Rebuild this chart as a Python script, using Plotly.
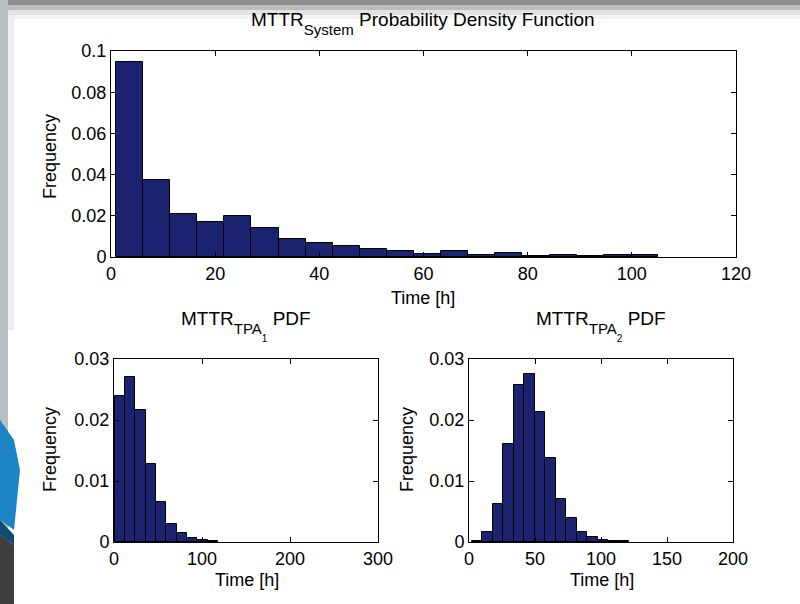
import numpy as np
import plotly.graph_objects as go

# ---------------- data ----------------
# MTTR_System histogram: 20 bins spanning ~0.96 h .. ~105 h
system_range = [0.96, 105.0]
system_freq = [0.0945, 0.0374, 0.0207, 0.0171, 0.0201, 0.0139, 0.0087, 0.0066,
               0.0053, 0.0040, 0.0031, 0.0015, 0.0029, 0.0010, 0.0020, 0.0007,
               0.0012, 0.0003, 0.0008, 0.0008]

# MTTR_TPA1 histogram: 10 bins spanning ~1 h .. ~118 h
tpa1_range = [1.0, 118.0]
tpa1_freq = [0.0239, 0.0270, 0.0216, 0.0128, 0.0065, 0.0030, 0.0014, 0.00066,
             0.00026, 0.00014]

# MTTR_TPA2 histogram: 15 bins spanning ~2.1 h .. ~121 h
tpa2_range = [2.1, 121.4]
tpa2_freq = [0.0002, 0.0016, 0.0063, 0.0160, 0.0257, 0.0276, 0.0213, 0.0137,
             0.0070, 0.0039, 0.0016, 0.00087, 0.0004, 0.0002, 0.0002]

system_xticks = [0, 20, 40, 60, 80, 100, 120]
system_yticks = [0, 0.02, 0.04, 0.06, 0.08, 0.1]
tpa1_xticks = [0, 100, 200, 300]
tpa2_xticks = [0, 50, 100, 150, 200]
tpa_yticks = [0, 0.01, 0.02, 0.03]

# ---------------- helpers ----------------
BAR_COLOR = "rgb(27,35,112)"
FONT = "Liberation Sans, Arial, Helvetica, sans-serif"
FS = 18
TFS = 19
W, H = 800, 604


def bins(rng, values):
    n = len(values)
    edges = np.linspace(rng[0], rng[1], n + 1)
    centers = (edges[:-1] + edges[1:]) / 2
    width = edges[1] - edges[0]
    return centers, width


def px_x(p):
    return p / W


def px_y(p):
    return 1 - p / H


fig = go.Figure()
for rng, vals, xa, ya in [
    (system_range, system_freq, "x", "y"),
    (tpa1_range, tpa1_freq, "x2", "y2"),
    (tpa2_range, tpa2_freq, "x3", "y3"),
]:
    c, w = bins(rng, vals)
    fig.add_trace(go.Bar(
        x=c, y=vals, width=w, xaxis=xa, yaxis=ya,
        marker=dict(color=BAR_COLOR, line=dict(color="black", width=1)),
        showlegend=False, hoverinfo="x+y",
    ))

axis_common = dict(
    showline=True, linecolor="black", linewidth=1, mirror="ticks",
    ticks="inside", ticklen=5, tickcolor="black", showgrid=False,
    zeroline=False, tickfont=dict(family=FONT, size=FS, color="black"),
    fixedrange=True, automargin=False,
)

fig.update_layout(
    width=W, height=H,
    margin=dict(l=0, r=0, t=0, b=0, pad=0, autoexpand=False),
    paper_bgcolor="white", plot_bgcolor="white",
    bargap=0,
    font=dict(family=FONT, size=FS, color="black"),
    xaxis=dict(domain=[px_x(111), px_x(736)], range=[0, 120],
               tickvals=system_xticks, anchor="y", **axis_common),
    yaxis=dict(domain=[px_y(257), px_y(51)], range=[0, 0.1],
               tickvals=system_yticks, ticktext=[f"{v:g}" for v in system_yticks],
               anchor="x", **axis_common),
    xaxis2=dict(domain=[px_x(114), px_x(378)], range=[0, 300],
                tickvals=tpa1_xticks, anchor="y2", **axis_common),
    yaxis2=dict(domain=[px_y(542), px_y(359)], range=[0, 0.03],
                tickvals=tpa_yticks, ticktext=[f"{v:g}" for v in tpa_yticks],
                anchor="x2", **axis_common),
    xaxis3=dict(domain=[px_x(469), px_x(733)], range=[0, 200],
                tickvals=tpa2_xticks, anchor="y3", **axis_common),
    yaxis3=dict(domain=[px_y(542), px_y(359)], range=[0, 0.03],
                tickvals=tpa_yticks, ticktext=[f"{v:g}" for v in tpa_yticks],
                anchor="x3", **axis_common),
)

# ---------------- text ----------------
def ann(text, x, y, angle=0, size=FS, xanchor="center", yanchor="middle"):
    fig.add_annotation(text=text, x=px_x(x), y=px_y(y), xref="paper", yref="paper",
                       showarrow=False, textangle=angle, xanchor=xanchor,
                       yanchor=yanchor, font=dict(family=FONT, size=size, color="black"))

SUB = '<span style="font-size:15px;baseline-shift:-9px">{}</span>'
SUBSUB = '<span style="font-size:10px;baseline-shift:-17px">{}</span>'

ann("MTTR" + SUB.format("System") + " Probability Density Function", 423, 24, size=TFS)
ann("Time [h]", 423, 298)
ann("Frequency", 50, 157, angle=-90)
ann("MTTR" + SUB.format("TPA") + SUBSUB.format("1") + " PDF", 246, 326, size=TFS)
ann("Time [h]", 247, 580)
ann("Frequency", 50, 450, angle=-90)
ann("MTTR" + SUB.format("TPA") + SUBSUB.format("2") + " PDF", 601, 326, size=TFS)
ann("Time [h]", 602, 580)
ann("Frequency", 407, 450, angle=-90)

# ---------------- slide decoration (background) ----------------
def rect(x0, y0, x1, y1, color):
    fig.add_shape(type="rect", xref="paper", yref="paper",
                  x0=px_x(x0), x1=px_x(x1), y0=px_y(y1), y1=px_y(y0),
                  fillcolor=color, line=dict(width=0), layer="below")

def poly(points, color):
    path = "M " + " L ".join(f"{px_x(a)},{px_y(b)}" for a, b in points) + " Z"
    fig.add_shape(type="path", xref="paper", yref="paper", path=path,
                  fillcolor=color, line=dict(width=0), layer="below")

rect(0, 0, 800, 5, "#8f8f8f")
rect(0, 5, 800, 10, "#bdbdbd")
rect(0, 10, 800, 15, "#e2e2e2")
rect(0, 15, 800, 19, "#f3f3f3")
rect(0, 0, 8, 604, "#b9c0c4")
rect(8, 15, 14, 330, "#eeeeee")
poly([(0, 420), (14, 440), (20, 470), (14, 530), (0, 520)], "#1c86c4")
poly([(0, 520), (14, 535), (14, 545), (0, 535)], "#0d4d73")
poly([(0, 535), (14, 545), (14, 604), (0, 604)], "#3f3f3f")

fig.write_html("out.html",
               config={"displayModeBar": False},
               post_script="document.body.style.margin='0px';"
                           "document.body.style.overflow='hidden';")
